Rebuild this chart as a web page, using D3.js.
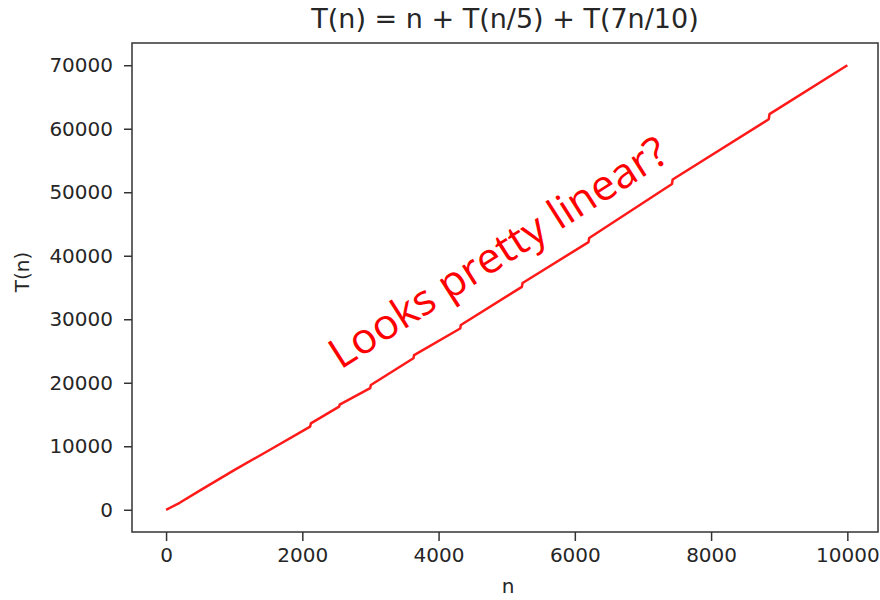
<!DOCTYPE html>
<html>
<head>
<meta charset="utf-8">
<script src="https://cdn.jsdelivr.net/npm/d3@7"></script>
<style>
  body { margin: 0; background: #fff; }
  text { font-family: "DejaVu Sans", sans-serif; fill: #262626; }
</style>
</head>
<body>
<div id="chart"></div>
<script>

var width = 880,
    height = 600;

// values (the small jogs are the steps of the recurrence)
var nValues = [0, 200, 500, 1000, 1500, 2115, 2125, 2540, 2548, 2996, 3006, 3631, 3641,
               4317, 4327, 5223, 5233, 6201, 6211, 7426, 7436, 8847, 8857, 10000];
var tValues = [0, 1100, 3050, 6250, 9300, 13100, 13600, 16250, 16550, 19150, 19650, 23850, 24350,
               28550, 29100, 35100, 35700, 42150, 42800, 51300, 52000, 61500, 62300, 70000];

var xTicks = [0, 2000, 4000, 6000, 8000, 10000];
var yTicks = [0, 10000, 20000, 30000, 40000, 50000, 60000, 70000];

var titleText = "T(n) = n + T(n/5) + T(7n/10)";
var note = { text: "Looks pretty linear?", n: 2560, t: 22000 };

var data = nValues.map(function(n, i) { return { n: n, t: tValues[i] }; });

var svg = d3.select("#chart").append("svg")
    .attr("width", width)
    .attr("height", height);

// plot frame (window.top is taken, so no plain "top" here)
var plotLeft = 132, plotRight = 878, plotTop = 43, plotBottom = 532;

var x = d3.scaleLinear().domain([-500, 10450]).range([plotLeft, plotRight]);
var y = d3.scaleLinear().domain([-3500, 73500]).range([plotBottom, plotTop]);

var xAxis = svg.append("g")
    .attr("transform", "translate(0," + plotBottom + ")")
    .call(d3.axisBottom(x).tickValues(xTicks).tickSize(9).tickPadding(7).tickFormat(d3.format("d")));

var yAxis = svg.append("g")
    .attr("transform", "translate(" + plotLeft + ",0)")
    .call(d3.axisLeft(y).tickValues(yTicks).tickSize(8).tickPadding(11).tickFormat(d3.format("d")));

[xAxis, yAxis].forEach(function(a) {
  a.select(".domain").remove();
  a.selectAll(".tick line").attr("stroke", "#333").attr("stroke-width", 1.5);
  a.selectAll(".tick text").style("font-size", "20px").attr("fill", "#262626");
});

var line = d3.line()
    .x(function(d) { return x(d.n); })
    .y(function(d) { return y(d.t); });

svg.append("path")
    .datum(data)
    .attr("fill", "none")
    .attr("stroke", "#ff1a1a")
    .attr("stroke-width", 2.5)
    .attr("stroke-linejoin", "round")
    .attr("d", line);

svg.append("rect")
    .attr("x", plotLeft)
    .attr("y", plotTop)
    .attr("width", plotRight - plotLeft)
    .attr("height", plotBottom - plotTop)
    .attr("fill", "none")
    .attr("stroke", "#333")
    .attr("stroke-width", 1.5);

svg.append("text")
    .attr("x", 505)
    .attr("y", 28)
    .attr("text-anchor", "middle")
    .style("font-size", "27px")
    .text(titleText);

svg.append("text")
    .attr("x", 508)
    .attr("y", 593)
    .attr("text-anchor", "middle")
    .style("font-size", "20px")
    .text("n");

svg.append("text")
    .attr("transform", "translate(29,272) rotate(-90)")
    .attr("text-anchor", "middle")
    .style("font-size", "20px")
    .text("T(n)");

svg.append("text")
    .attr("transform", "translate(" + x(note.n) + "," + y(note.t) + ") rotate(-32.5)")
    .attr("textLength", 392)
    .attr("lengthAdjust", "spacingAndGlyphs")
    .style("font-family", "'Open Sans', sans-serif")
    .style("font-size", "42px")
    .style("fill", "#ff0000")
    .text(note.text);

</script>
</body>
</html>
